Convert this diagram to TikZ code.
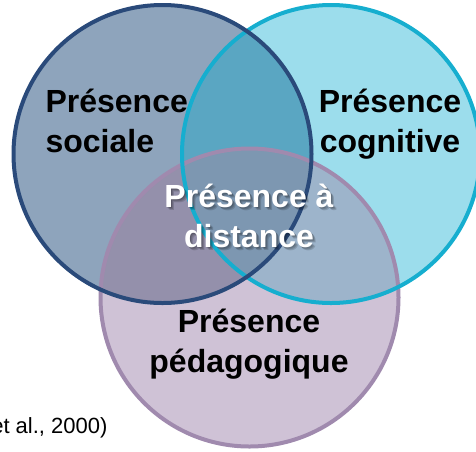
\documentclass[tikz,border=0pt]{standalone}
\usepackage{fontspec}
\setmainfont{Liberation Sans}
\usepackage{tikz}

\definecolor{socfill}{HTML}{8EA4BC}
\definecolor{cogfill}{HTML}{9CDDEC}
\definecolor{pedfill}{HTML}{CFC2D6}
\definecolor{soccog}{HTML}{5AA6C2}
\definecolor{socped}{HTML}{9490AB}
\definecolor{cogped}{HTML}{9DB4CB}
\definecolor{allthree}{HTML}{7D97B1}
\definecolor{socline}{HTML}{2A4A7A}
\definecolor{cogline}{HTML}{16AECF}
\definecolor{pedline}{HTML}{A08AAE}

\tikzset{
	ring/.style={line width=4pt},
	zonetext/.style={font=\fontsize{32}{40}\selectfont\bfseries, align=#1},
	zonetext/.default=center
}

\begin{document}
\begin{tikzpicture}[x=1pt,y=-1pt]
	
	\useasboundingbox (0,0) rectangle (476,451);
	\coordinate (soc) at (162.5,154);
	\coordinate (cog) at (331,154);
	\coordinate (ped) at (249.5,297.5);
	\def\rad{149}
	
	% areas
	\fill[socfill] (soc) circle (\rad);
	\fill[cogfill] (cog) circle (\rad);
	\fill[pedfill] (ped) circle (\rad);
	\begin{scope}
		\clip (soc) circle (\rad);
		\fill[soccog] (cog) circle (\rad);
		\fill[socped] (ped) circle (\rad);
	\end{scope}
	\begin{scope}
		\clip (cog) circle (\rad);
		\fill[cogped] (ped) circle (\rad);
		\clip (ped) circle (\rad);
		\fill[allthree] (soc) circle (\rad);
	\end{scope}
	
	% rings
	\draw[ring, pedline] (ped) circle (\rad);
	\draw[ring, cogline] (cog) circle (\rad);
	\draw[ring, socline] (soc) circle (\rad);
	
	\node[zonetext=left, anchor=base west] (sociale) at (42,152) {Présence\\sociale};
	\node[zonetext, anchor=base] (cognitive) at (390,152) {Présence\\cognitive};
	\node[zonetext, anchor=base] (pedagogique) at (249,372) {Présence\\pédagogique};
	
	\foreach \dx/\dy in {1/1,2/2,3/3}
		\node[zonetext, anchor=base, text=black, text opacity=0.15] at (249+\dx,247+\dy) {Présence à\\distance};
	\node[zonetext, anchor=base, text=white] (distance) at (249,247) {Présence à\\distance};
	
	\node[font=\fontsize{22}{26}\selectfont, anchor=base east] (source) at (111,433) {et al., 2000)};
	
\end{tikzpicture}
\end{document}
